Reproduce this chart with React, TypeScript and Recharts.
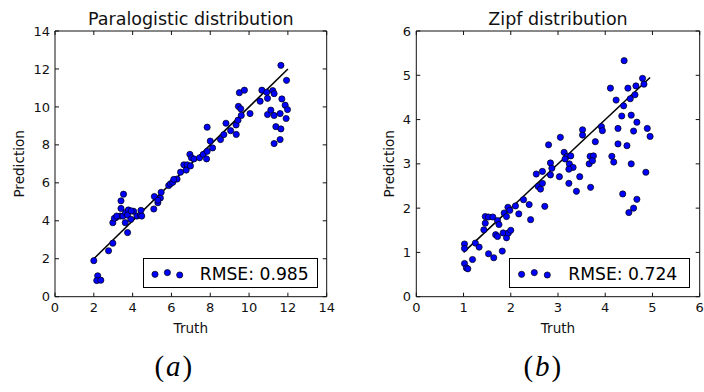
import React from 'react';
import { ScatterChart, Scatter, XAxis, YAxis, ReferenceLine, Legend } from 'recharts';

// ---- Data: Paralogistic ----
const paraTruth = [2.0, 2.2, 2.15, 2.36, 2.76, 2.98, 2.98, 3.14, 3.36, 3.4, 3.4, 3.53, 3.5, 3.64, 3.78, 3.74, 3.62, 3.74, 3.91, 4.05, 4.22, 4.4, 4.43, 3.93, 5.12, 5.09, 5.3, 5.43, 5.47, 5.3, 5.86, 5.95, 6.07, 6.29, 6.12, 6.47, 6.64, 6.81, 6.76, 6.98, 6.95, 7.03, 7.16, 7.45, 7.64, 7.81, 7.84, 8.12, 8.0, 7.84, 8.53, 8.7, 8.81, 9.05, 9.33, 9.34, 9.43, 9.45, 9.57, 9.6, 9.5, 9.76, 10.05, 10.57, 10.66, 10.91, 10.95, 11.22, 11.29, 10.95, 11.12, 11.29, 11.6, 11.69, 11.86, 11.98, 11.91, 11.38, 11.64, 11.29, 11.6, 11.64, 11.93, 3.06, 3.18, 4.47];
const paraPred = [1.9, 1.1, 0.85, 0.87, 2.42, 2.82, 3.9, 4.17, 4.25, 4.65, 5.05, 5.4, 4.25, 4.43, 4.57, 4.3, 3.9, 3.38, 4.08, 4.5, 4.25, 4.3, 4.55, 4.52, 5.28, 4.62, 4.95, 5.2, 5.5, 5.08, 5.86, 5.95, 6.03, 6.2, 6.18, 6.56, 6.95, 6.95, 6.67, 6.89, 7.5, 7.32, 7.26, 7.32, 7.5, 7.26, 7.66, 7.84, 8.2, 8.93, 8.28, 8.54, 9.14, 8.75, 9.05, 8.55, 9.3, 10.03, 9.9, 9.55, 10.75, 10.88, 9.65, 10.3, 10.88, 10.77, 10.45, 10.86, 10.7, 9.6, 9.83, 9.55, 9.65, 10.42, 10.09, 9.86, 9.39, 8.96, 8.84, 8.07, 8.28, 12.19, 11.4, 4.13, 4.25, 4.25];
const paraTicks = [0, 2, 4, 6, 8, 10, 12, 14];
const paraFit = [2, 12];
const paraRmse = 'RMSE: 0.985';
const paraTitle = 'Paralogistic distribution';

// ---- Data: Zipf ----
const zipfTruth = [1.02, 1.02, 1.02, 1.06, 1.09, 1.19, 1.25, 1.33, 1.43, 1.46, 1.46, 1.53, 1.62, 1.72, 1.75, 1.68, 1.72, 1.86, 1.91, 1.94, 1.98, 1.84, 1.91, 1.95, 2.0, 1.82, 1.53, 1.64, 2.1, 2.17, 2.27, 2.39, 2.42, 2.72, 2.58, 2.63, 2.67, 2.54, 2.67, 2.84, 2.84, 2.87, 2.8, 3.03, 3.05, 3.13, 3.19, 3.27, 3.15, 3.24, 3.32, 3.23, 3.23, 3.46, 3.39, 3.69, 3.52, 3.52, 3.68, 3.75, 3.66, 3.73, 3.79, 3.92, 3.94, 4.11, 4.23, 4.4, 4.48, 4.65, 4.63, 4.53, 4.79, 4.82, 4.39, 4.35, 4.55, 4.67, 4.6, 4.27, 4.89, 4.95, 4.27, 4.46, 4.14, 4.18, 4.55, 4.86, 4.37, 4.67, 4.5, 4.6];
const zipfPred = [1.19, 1.09, 0.75, 0.65, 0.63, 0.84, 1.21, 1.12, 1.51, 1.66, 1.81, 1.8, 1.8, 1.72, 1.63, 1.4, 1.36, 1.89, 1.81, 2.02, 1.95, 1.44, 1.33, 1.44, 1.5, 1.03, 0.97, 0.88, 2.05, 1.87, 2.19, 2.08, 1.74, 2.04, 2.49, 2.43, 2.56, 2.77, 2.83, 2.75, 3.02, 2.9, 3.43, 2.71, 3.6, 3.26, 3.17, 3.18, 3.11, 3.0, 2.92, 2.88, 2.56, 2.71, 2.38, 2.47, 3.77, 3.65, 3.17, 3.18, 3.0, 3.07, 3.5, 3.84, 3.75, 4.71, 4.44, 5.33, 4.71, 4.76, 4.56, 4.47, 4.93, 4.8, 4.31, 4.08, 4.1, 3.94, 3.74, 3.8, 3.8, 3.62, 3.45, 3.41, 3.17, 3.04, 3.0, 2.81, 2.32, 2.2, 1.9, 2.0];
const zipfTicks = [0, 1, 2, 3, 4, 5, 6];
const zipfFit = [1, 4.95];
const zipfRmse = 'RMSE: 0.724';
const zipfTitle = 'Zipf distribution';

const FONT = '"DejaVu Sans", Verdana, sans-serif';

const Dot = (props: any) => (
  <circle cx={props.cx} cy={props.cy} r={3.1} fill="#0000ff" stroke="#000" strokeWidth={0.7} />
);

function LegendBox({ w, h, dots, textX, text }: any) {
  return (
    <div style={{ width: w, height: h, border: '1px solid #000', background: '#fff', boxSizing: 'border-box', position: 'relative' }}>
      <svg width={w} height={h} style={{ position: 'absolute', left: -1, top: -1 }}>
        {dots.map((d: number[], i: number) => (
          <circle key={i} cx={d[0]} cy={d[1]} r={3.1} fill="#0000ff" stroke="#000" strokeWidth={0.7} />
        ))}
        <text x={textX} y={21.8} fontFamily={FONT} fontSize={17.2} fill="#000">{text}</text>
      </svg>
    </div>
  );
}

function Panel({ title, truth, pred, ticks, fit, rmse, margin, yLabelDx, yTickMargin, legend }: any) {
  const data = truth.map((t: number, i: number) => ({ x: t, y: pred[i] }));
  const lo = ticks[0];
  const hi = ticks[ticks.length - 1];
  const tickStyle = { fontFamily: FONT, fontSize: 13, fill: '#111' };
  return (
    <ScatterChart width={352} height={392} margin={margin}>
      <XAxis
        dataKey="x" type="number" domain={[lo, hi]} ticks={ticks} interval={0} allowDataOverflow
        height={40} tickSize={-4} tickMargin={10.5} stroke="#111" tick={tickStyle}
        label={{ value: 'Truth', position: 'insideBottom', offset: 4, style: { fontFamily: FONT, fontSize: 13.6, fill: '#111' } }}
      />
      <YAxis
        dataKey="y" type="number" domain={[lo, hi]} ticks={ticks} interval={0} allowDataOverflow
        width={40} tickSize={-4} tickMargin={yTickMargin} stroke="#111" tick={tickStyle}
        label={(p: any) => {
          const vb = p.viewBox;
          const x = vb.x + yLabelDx;
          const y = vb.y + vb.height / 2;
          return (
            <text x={x} y={y} transform={`rotate(-90, ${x}, ${y})`} textAnchor="middle" fontFamily={FONT} fontSize={13.6} fill="#111">
              Prediction
            </text>
          );
        }}
      />
      <XAxis
        xAxisId="top" orientation="top" dataKey="x" type="number" domain={[lo, hi]} ticks={ticks} interval={0} allowDataOverflow
        height={1} tickSize={-4} stroke="#111" tickFormatter={() => ''}
        label={{ value: title, position: 'top', offset: 5, style: { fontFamily: FONT, fontSize: 17.5, fill: '#111' } }}
      />
      <YAxis
        yAxisId="right" orientation="right" dataKey="y" type="number" domain={[lo, hi]} ticks={ticks} interval={0} allowDataOverflow
        width={1} tickSize={-4} stroke="#111" tickFormatter={() => ''}
      />
      <ReferenceLine segment={[{ x: fit[0], y: fit[0] }, { x: fit[1], y: fit[1] }]} stroke="#000" strokeWidth={1.5} ifOverflow="visible" />
      <Scatter data={data} shape={Dot} isAnimationActive={false} />
      <Scatter data={data} xAxisId="top" yAxisId="right" shape={() => <g />} isAnimationActive={false} legendType="none" />
      <Legend
        layout="vertical" align="center" verticalAlign="middle"
        wrapperStyle={{ left: legend.x, top: legend.y, width: legend.w, height: legend.h }}
        content={() => <LegendBox w={legend.w} h={legend.h} dots={legend.dots} textX={legend.textX} text={rmse} />}
      />
    </ScatterChart>
  );
}

const SERIF = '"Liberation Serif", "DejaVu Serif", serif';

export default function App() {
  return (
    <div style={{ position: 'absolute', left: 0, top: 0, width: 704, height: 392, background: '#fff', overflow: 'hidden' }}>
      <div style={{ position: 'absolute', left: 0, top: 0 }}>
        <Panel
          title={paraTitle} truth={paraTruth} pred={paraPred} ticks={paraTicks} fit={paraFit} rmse={paraRmse}
          margin={{ top: 30, right: 24.3, bottom: 55.3, left: 15 }} yLabelDx={9.5} yTickMargin={9}
          legend={{ x: 143.3, y: 257.7, w: 175, h: 30.6, dots: [[12, 16.3], [24.4, 14.6], [36.7, 17]], textX: 56.7 }}
        />
      </div>
      <div style={{ position: 'absolute', left: 352, top: 0 }}>
        <Panel
          title={zipfTitle} truth={zipfTruth} pred={zipfPred} ticks={zipfTicks} fit={zipfFit} rmse={zipfRmse}
          margin={{ top: 30, right: 3.3, bottom: 55.3, left: 24.3 }} yLabelDx={17.7} yTickMargin={9.3}
          legend={{ x: 156.7, y: 258.3, w: 181.6, h: 30, dots: [[12.6, 16.3], [25.3, 14.6], [38.3, 17]], textX: 59.3 }}
        />
      </div>
      <svg width={704} height={392} style={{ position: 'absolute', left: 0, top: 0, pointerEvents: 'none' }}>
        <text x={173.3} y={376} textAnchor="middle" fontFamily={SERIF} fontSize={29}>
          (<tspan fontStyle="italic" dx={2}>a</tspan><tspan dx={2}>)</tspan>
        </text>
        <text x={542.3} y={376} textAnchor="middle" fontFamily={SERIF} fontSize={29}>
          (<tspan fontStyle="italic" dx={2}>b</tspan><tspan dx={2}>)</tspan>
        </text>
      </svg>
    </div>
  );
}
